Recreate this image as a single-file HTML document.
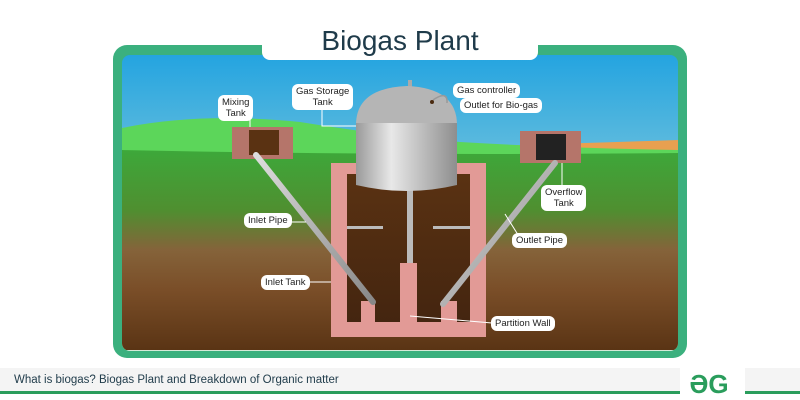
<!DOCTYPE html>
<html><head><style>
body{margin:0;width:800px;height:400px;background:#fff;overflow:hidden;font-family:"Liberation Sans",sans-serif}
.lb{position:absolute;background:#fff;border-radius:6px;font-size:9.5px;color:#222;text-align:center;line-height:11px;padding:2px 4px;white-space:nowrap}
</style></head><body>
<svg width="800" height="400" style="position:absolute;left:0;top:0">
<defs>
<linearGradient id="sky" x1="0" y1="0" x2="0" y2="1"><stop offset="0" stop-color="#24a4e0"/><stop offset="1" stop-color="#d6ead8"/></linearGradient>
<linearGradient id="ground" x1="0" y1="0" x2="0" y2="1">
<stop offset="0" stop-color="#3da83a"/><stop offset=".3" stop-color="#4f8f30"/><stop offset=".5" stop-color="#85633a"/><stop offset=".7" stop-color="#7a4e28"/><stop offset="1" stop-color="#5a3414"/></linearGradient>
<linearGradient id="cyl" x1="0" y1="0" x2="1" y2="0"><stop offset="0" stop-color="#9a9a9a"/><stop offset=".35" stop-color="#e8e8e8"/><stop offset="1" stop-color="#8e8e8e"/></linearGradient>
<linearGradient id="pipe" x1="0" y1="0" x2="1" y2="1"><stop offset="0" stop-color="#ddd"/><stop offset="1" stop-color="#888"/></linearGradient>
<linearGradient id="soil" x1="0" y1="0" x2="0" y2="1"><stop offset="0" stop-color="#5a3212"/><stop offset="1" stop-color="#442510"/></linearGradient>
<clipPath id="c"><rect x="122" y="55" width="556" height="296" rx="8"/></clipPath>
</defs>
<rect x="113" y="45" width="574" height="313" rx="14" fill="#3bb07e"/>
<g clip-path="url(#c)">
<rect x="122" y="55" width="556" height="296" fill="url(#sky)"/>
<path d="M122 148 Q300 140 420 148 Q560 144 678 140 L678 350 L122 350Z" fill="#e8a050"/>
<path d="M122 128 Q200 112 300 122 Q380 135 460 142 Q560 148 678 150 L678 160 L122 160Z" fill="#5cd65a"/>
<path d="M122 150 Q400 156 678 153 L678 350 L122 350Z" fill="url(#ground)"/>
<!-- digester -->
<rect x="331" y="163" width="155" height="174" fill="#e29a96"/>
<rect x="347" y="174" width="123" height="148" fill="url(#soil)"/>
<rect x="361" y="301" width="14" height="21" fill="#e29a96"/>
<rect x="400" y="263" width="17" height="59" fill="#e29a96"/>
<rect x="441" y="301" width="16" height="21" fill="#e29a96"/>
<rect x="347" y="226" width="36" height="3" fill="#bbb"/>
<rect x="433" y="226" width="37" height="3" fill="#bbb"/>
<rect x="407" y="185" width="6" height="78" fill="#bbb"/>
<!-- gas tank -->
<rect x="408" y="80" width="4" height="10" fill="#aaa"/>
<path d="M356 125 Q356 88 407 86 Q457 88 457 125 Z" fill="#b5b5b5"/>
<path d="M356 123 L457 123 L457 185 Q407 197 356 185Z" fill="url(#cyl)"/>
<path d="M433 100 Q448 90 447 103" stroke="#999" stroke-width="1.5" fill="none"/>
<circle cx="432" cy="102" r="2" fill="#4a2a10"/>
<!-- tanks -->
<rect x="232" y="127" width="61" height="32" fill="#b5756a"/>
<rect x="249" y="130" width="30" height="25" fill="#5a3212"/>
<rect x="520" y="131" width="61" height="32" fill="#b5756a"/>
<rect x="536" y="134" width="30" height="26" fill="#222"/>
<!-- pipes -->
<line x1="256" y1="155" x2="373" y2="302" stroke="url(#pipe)" stroke-width="6" stroke-linecap="round"/>
<line x1="555" y1="163" x2="443" y2="304" stroke="url(#pipe)" stroke-width="6" stroke-linecap="round"/>
<!-- leaders -->
<g stroke="#fff" stroke-width="1" fill="none">
<line x1="250" y1="119" x2="250" y2="127"/>
<polyline points="322,106 322,126 356,126"/>
<line x1="290" y1="222" x2="306" y2="222"/>
<line x1="305" y1="282" x2="331" y2="282"/>
<line x1="562" y1="163" x2="562" y2="187"/>
<line x1="520" y1="238" x2="505" y2="214"/>
<line x1="492" y1="323" x2="410" y2="316"/>
</g>
</g>
<rect x="262" y="20" width="276" height="40" rx="8" fill="#fff"/>
<text x="400" y="50" text-anchor="middle" font-family="Liberation Sans" font-size="28" fill="#1f3b4a">Biogas Plant</text>
<rect x="0" y="368" width="800" height="24" fill="#f4f4f4"/>
<rect x="0" y="391" width="680" height="3" fill="#2a9d5c"/>
<rect x="745" y="391" width="55" height="3" fill="#2a9d5c"/>
<rect x="680" y="368" width="65" height="32" fill="#fff"/>
<text x="14" y="383" font-size="11.5" fill="#1f3b4a">What is biogas? Biogas Plant and Breakdown of Organic matter</text>
<text x="709" y="393" text-anchor="middle" font-size="26" font-weight="bold" fill="#2a9d5c">ƏG</text>
</svg>
<div class="lb" style="left:218px;top:95px">Mixing<br>Tank</div>
<div class="lb" style="left:292px;top:84px">Gas Storage<br>Tank</div>
<div class="lb" style="left:453px;top:83px">Gas controller</div>
<div class="lb" style="left:460px;top:98px">Outlet for Bio-gas</div>
<div class="lb" style="left:541px;top:185px">Overflow<br>Tank</div>
<div class="lb" style="left:244px;top:213px">Inlet Pipe</div>
<div class="lb" style="left:512px;top:233px">Outlet Pipe</div>
<div class="lb" style="left:261px;top:275px">Inlet Tank</div>
<div class="lb" style="left:491px;top:316px">Partition Wall</div>
</body></html>
